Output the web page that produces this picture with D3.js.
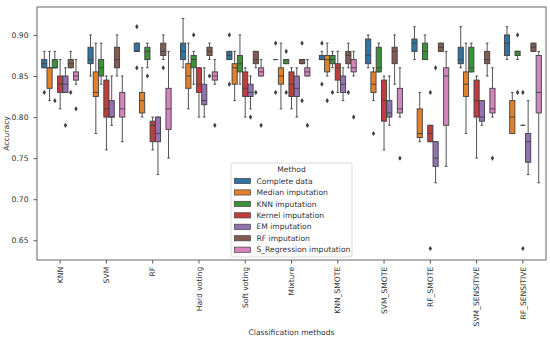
<html>
<head>
<script src="https://cdnjs.cloudflare.com/ajax/libs/d3/7.8.5/d3.min.js"></script>
<style>
    body { margin: 0; background: white; }
    text { font-family: "DejaVu Sans", sans-serif; }
</style>
</head>
<body>
<svg id="chart" width="550" height="339"></svg>
<script>
    let categories = ["KNN", "SVM", "RF", "Hard voting", "Soft voting", "Mixture", "KNN_SMOTE",
                      "SVM_SMOTE", "RF_SMOTE", "SVM_SENSITIVE", "RF_SENSITIVE"];
    let methods = ["Complete data", "Median imputation", "KNN imputation", "Kernel imputation",
                   "EM imputation", "RF imputation", "S_Regression imputation"];
    let yTicks = [0.65, 0.70, 0.75, 0.80, 0.85, 0.90];

    // one entry per category: [low whisker, q1, median, q3, high whisker, outliers]
    let completeData = [
        [0.86, 0.86, 0.865, 0.87, 0.88, [0.83]],
        [0.85, 0.865, 0.87, 0.885, 0.90, []],
        [0.88, 0.88, 0.88, 0.89, 0.89, [0.91, 0.86]],
        [0.86, 0.87, 0.88, 0.89, 0.92, []],
        [0.87, 0.87, 0.875, 0.88, 0.88, [0.90, 0.84]],
        [0.87, 0.87, 0.87, 0.87, 0.87, [0.89, 0.83]],
        [0.87, 0.87, 0.87, 0.875, 0.88, [0.89, 0.84]],
        [0.86, 0.865, 0.875, 0.895, 0.90, []],
        [0.87, 0.88, 0.89, 0.895, 0.91, []],
        [0.86, 0.865, 0.87, 0.885, 0.91, []],
        [0.87, 0.875, 0.89, 0.90, 0.91, []]
    ];
    let medianData = [
        [0.82, 0.835, 0.86, 0.86, 0.88, []],
        [0.78, 0.825, 0.83, 0.855, 0.89, []],
        [0.80, 0.805, 0.82, 0.83, 0.86, []],
        [0.81, 0.835, 0.85, 0.865, 0.89, []],
        [0.82, 0.84, 0.86, 0.865, 0.88, []],
        [0.81, 0.84, 0.85, 0.86, 0.89, []],
        [0.85, 0.855, 0.87, 0.875, 0.89, [0.82]],
        [0.82, 0.83, 0.84, 0.855, 0.86, [0.78]],
        [0.77, 0.775, 0.78, 0.81, 0.83, []],
        [0.78, 0.825, 0.84, 0.855, 0.89, []],
        [0.78, 0.78, 0.80, 0.82, 0.83, []]
    ];
    let knnData = [
        [0.86, 0.86, 0.86, 0.87, 0.88, [0.82]],
        [0.84, 0.85, 0.86, 0.87, 0.89, []],
        [0.86, 0.87, 0.88, 0.885, 0.89, [0.85]],
        [0.84, 0.86, 0.87, 0.875, 0.88, [0.90]],
        [0.84, 0.855, 0.865, 0.875, 0.90, []],
        [0.865, 0.865, 0.87, 0.87, 0.87, [0.88, 0.83]],
        [0.86, 0.865, 0.87, 0.875, 0.88, [0.83]],
        [0.855, 0.855, 0.86, 0.885, 0.89, []],
        [0.87, 0.87, 0.88, 0.89, 0.90, []],
        [0.855, 0.855, 0.86, 0.885, 0.89, []],
        [0.87, 0.875, 0.88, 0.88, 0.88, [0.90, 0.83]]
    ];
    let kernelData = [
        [0.81, 0.83, 0.84, 0.85, 0.87, []],
        [0.76, 0.80, 0.81, 0.845, 0.85, []],
        [0.76, 0.77, 0.79, 0.795, 0.80, []],
        [0.80, 0.83, 0.84, 0.86, 0.86, []],
        [0.80, 0.825, 0.835, 0.855, 0.86, []],
        [0.81, 0.825, 0.84, 0.855, 0.86, []],
        [0.83, 0.845, 0.86, 0.865, 0.88, []],
        [0.76, 0.795, 0.82, 0.845, 0.85, []],
        [0.77, 0.77, 0.78, 0.79, 0.79, [0.83, 0.64]],
        [0.75, 0.80, 0.82, 0.845, 0.85, []],
        [0.79, 0.79, 0.79, 0.79, 0.79, [0.83, 0.64]]
    ];
    let emData = [
        [0.83, 0.83, 0.84, 0.85, 0.86, [0.79]],
        [0.79, 0.80, 0.80, 0.82, 0.85, []],
        [0.73, 0.77, 0.78, 0.80, 0.80, []],
        [0.80, 0.815, 0.82, 0.84, 0.86, []],
        [0.81, 0.825, 0.83, 0.84, 0.85, [0.80]],
        [0.80, 0.825, 0.835, 0.85, 0.86, []],
        [0.82, 0.83, 0.84, 0.85, 0.86, []],
        [0.79, 0.80, 0.805, 0.82, 0.85, []],
        [0.72, 0.74, 0.75, 0.77, 0.77, [0.86]],
        [0.79, 0.795, 0.80, 0.82, 0.82, []],
        [0.73, 0.745, 0.77, 0.78, 0.82, []]
    ];
    let rfData = [
        [0.86, 0.86, 0.865, 0.87, 0.88, [0.83]],
        [0.85, 0.86, 0.87, 0.885, 0.90, []],
        [0.87, 0.875, 0.88, 0.89, 0.90, [0.86]],
        [0.87, 0.875, 0.88, 0.885, 0.89, [0.85]],
        [0.86, 0.865, 0.87, 0.88, 0.88, [0.83]],
        [0.865, 0.865, 0.87, 0.87, 0.87, [0.89, 0.82]],
        [0.86, 0.865, 0.875, 0.88, 0.89, [0.83]],
        [0.84, 0.865, 0.88, 0.885, 0.90, []],
        [0.88, 0.88, 0.885, 0.89, 0.89, []],
        [0.85, 0.865, 0.87, 0.88, 0.89, []],
        [0.88, 0.88, 0.885, 0.89, 0.89, []]
    ];
    let sregData = [
        [0.84, 0.845, 0.85, 0.855, 0.87, [0.81]],
        [0.77, 0.80, 0.81, 0.83, 0.85, []],
        [0.75, 0.785, 0.81, 0.835, 0.88, []],
        [0.84, 0.845, 0.85, 0.855, 0.87, [0.79]],
        [0.85, 0.85, 0.855, 0.86, 0.87, [0.79]],
        [0.85, 0.85, 0.855, 0.86, 0.87, [0.79]],
        [0.85, 0.855, 0.86, 0.87, 0.88, [0.80]],
        [0.80, 0.805, 0.81, 0.835, 0.86, [0.75]],
        [0.74, 0.79, 0.85, 0.86, 0.88, []],
        [0.80, 0.805, 0.81, 0.835, 0.86, [0.75]],
        [0.72, 0.805, 0.83, 0.875, 0.88, []]
    ];

    let series = [completeData, medianData, knnData, kernelData, emData, rfData, sregData];
    let colors = ["#3274a1", "#e1812c", "#3a923a", "#c03d3e", "#9372b2", "#845b53", "#d684bd"];
    let gray = "#404040";

    var svg = d3.select("#chart");
    var plotLeft = 37, plotRight = 546, plotTop = 7, plotBottom = 260;

    var x = d3.scaleBand().domain(categories).range([plotLeft, plotRight]);
    var hue = d3.scaleBand().domain(methods)
        .range([x.bandwidth() * 0.1, x.bandwidth() * 0.9]);
    var y = d3.scaleLinear().domain([0.626, 0.934]).range([plotBottom, plotTop]);
    var color = d3.scaleOrdinal().domain(methods).range(colors);

    var boxW = hue.bandwidth() * 0.98;

    // boxes
    methods.forEach((m, i) => {
        var g = svg.append("g").attr("class", "method");
        series[i].forEach((d, j) => {
            var cx = x(categories[j]) + hue(m) + hue.bandwidth() / 2;
            var b = g.append("g");
            // whiskers
            b.append("line").attr("x1", cx).attr("x2", cx)
                .attr("y1", y(d[4])).attr("y2", y(d[3]))
                .attr("stroke", gray).attr("stroke-width", 0.9);
            b.append("line").attr("x1", cx).attr("x2", cx)
                .attr("y1", y(d[1])).attr("y2", y(d[0]))
                .attr("stroke", gray).attr("stroke-width", 0.9);
            // caps
            [d[0], d[4]].forEach(v => {
                b.append("line").attr("x1", cx - boxW / 4).attr("x2", cx + boxW / 4)
                    .attr("y1", y(v)).attr("y2", y(v))
                    .attr("stroke", gray).attr("stroke-width", 0.9);
            });
            b.append("rect")
                .attr("x", cx - boxW / 2)
                .attr("y", y(d[3]))
                .attr("width", boxW)
                .attr("height", Math.max(0, y(d[1]) - y(d[3])))
                .attr("fill", color(m))
                .attr("stroke", gray).attr("stroke-width", 0.9);
            b.append("line").attr("x1", cx - boxW / 2).attr("x2", cx + boxW / 2)
                .attr("y1", y(d[2])).attr("y2", y(d[2]))
                .attr("stroke", gray).attr("stroke-width", 0.9);
            // fliers
            b.selectAll("path.flier")
                .data(d[5])
                .enter()
                .append("path")
                .attr("class", "flier")
                .attr("d", "M0,-2.6L1.7,0L0,2.6L-1.7,0Z")
                .attr("transform", v => "translate(" + cx + "," + y(v) + ")")
                .attr("fill", gray);
        });
    });

    // axes
    var yAxis = svg.append("g")
        .attr("transform", "translate(" + plotLeft + ",0)")
        .call(d3.axisLeft(y).tickValues(yTicks).tickFormat(d3.format(".2f")).tickSize(3.5).tickPadding(5));
    yAxis.select(".domain").remove();
    yAxis.selectAll("text").attr("font-size", "7.6px").attr("fill", "#333").attr("font-family", "DejaVu Sans");
    yAxis.selectAll("line").attr("stroke", "#555");

    var xAxis = svg.append("g")
        .attr("transform", "translate(0," + plotBottom + ")")
        .call(d3.axisBottom(x).tickSize(3.5).tickSizeOuter(0));
    xAxis.select(".domain").remove();
    xAxis.selectAll("line").attr("stroke", "#555");
    xAxis.selectAll("text")
        .attr("font-size", "7.6px").attr("fill", "#333").attr("font-family", "DejaVu Sans")
        .attr("transform", "rotate(-90)")
        .attr("text-anchor", "end")
        .attr("x", -6.8)
        .attr("y", 0)
        .attr("dy", "0.35em");

    // frame
    svg.append("rect")
        .attr("x", plotLeft).attr("y", plotTop)
        .attr("width", plotRight - plotLeft).attr("height", plotBottom - plotTop)
        .attr("fill", "none").attr("stroke", "#666").attr("stroke-width", 1);

    // axis titles
    svg.append("text")
        .attr("transform", "translate(9," + (plotTop + plotBottom) / 2 + ") rotate(-90)")
        .attr("text-anchor", "middle")
        .attr("font-size", "7.6px").attr("fill", "#333")
        .text("Accuracy");
    svg.append("text")
        .attr("x", (plotLeft + plotRight) / 2).attr("y", 335)
        .attr("text-anchor", "middle")
        .attr("font-size", "7.6px").attr("fill", "#333")
        .text("Classification methods");

    // legend
    var legend = svg.append("g").attr("transform", "translate(231,163)");
    legend.append("rect")
        .attr("width", 121).attr("height", 94).attr("rx", 2)
        .attr("fill", "white").attr("fill-opacity", 0.8)
        .attr("stroke", "#d0d0d0").attr("stroke-width", 0.8);
    legend.append("text")
        .attr("x", 60.5).attr("y", 9)
        .attr("text-anchor", "middle")
        .attr("font-size", "7.6px").attr("fill", "#333")
        .text("Method");
    var item = legend.selectAll("g.item")
        .data(methods)
        .enter()
        .append("g")
        .attr("class", "item")
        .attr("transform", (d, i) => "translate(0," + (18 + i * 11.45) + ")");
    item.append("rect")
        .attr("x", 3.5).attr("y", -2.6)
        .attr("width", 16).attr("height", 5.2)
        .attr("fill", d => color(d))
        .attr("stroke", gray).attr("stroke-width", 0.7);
    item.append("text")
        .attr("x", 25.5).attr("dy", "0.35em")
        .attr("font-size", "7.6px").attr("fill", "#333")
        .text(d => d);
</script>
</body>
</html>
